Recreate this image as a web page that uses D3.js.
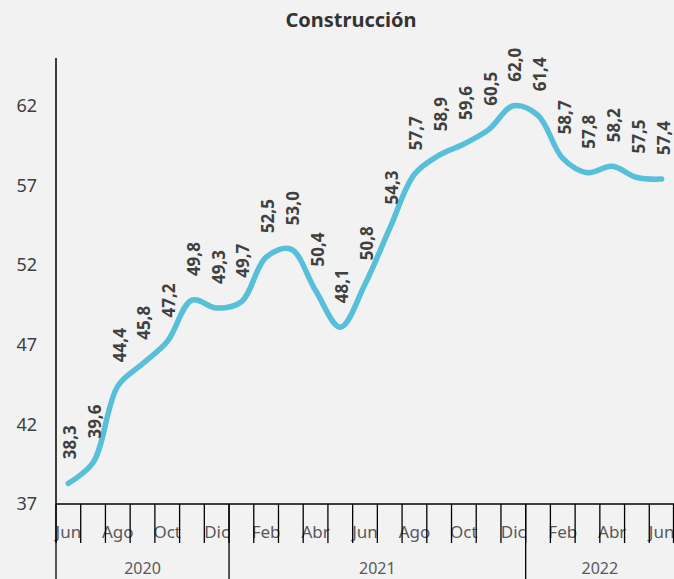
<!DOCTYPE html>
<html>
<head>
<meta charset="utf-8">
<script src="https://cdn.jsdelivr.net/npm/d3@7"></script>
<style>
    body { margin: 0; background: #f2f2f2; }
    svg { display: block; font-family: "Noto Sans", "Open Sans", sans-serif; }
</style>
</head>
<body>
<svg id="chart"></svg>
<script>
// Construcción, Jun 2020 - Jun 2022
const months = ['Jun', 'Jul', 'Ago', 'Sep', 'Oct', 'Nov', 'Dic',
    'Ene', 'Feb', 'Mar', 'Abr', 'May', 'Jun', 'Jul', 'Ago', 'Sep', 'Oct', 'Nov', 'Dic',
    'Ene', 'Feb', 'Mar', 'Abr', 'May', 'Jun'];
const values = [38.3, 39.6, 44.4, 45.8, 47.2, 49.8, 49.3,
    49.7, 52.5, 53.0, 50.4, 48.1, 50.8, 54.3, 57.7, 58.9, 59.6, 60.5, 62.0,
    61.4, 58.7, 57.8, 58.2, 57.5, 57.4];
const years = [
    { label: '2020', from: 0, to: 7 },
    { label: '2021', from: 7, to: 19 },
    { label: '2022', from: 19, to: 25 }
];
const yTicks = [37, 42, 47, 52, 57, 62];

const width = 674;
const height = 579;
const margin = { top: 58, left: 56, right: 0, bottom: 75 };

const svg = d3.select('#chart')
    .attr('width', width)
    .attr('height', height);

svg.append('rect')
    .attr('width', width)
    .attr('height', height)
    .attr('fill', '#f2f2f2');

const x = d3.scaleBand()
    .domain(d3.range(months.length))
    .range([margin.left, width - margin.right]);

const y = d3.scaleLinear()
    .domain([37, 65])
    .range([height - margin.bottom, margin.top]);

const y0 = y(37);

svg.append('text')
    .attr('x', 351)
    .attr('y', 27)
    .attr('text-anchor', 'middle')
    .attr('font-size', 20)
    .attr('font-weight', 'bold')
    .attr('fill', '#333')
    .text('Construcción');

// y axis
svg.append('line')
    .attr('x1', margin.left).attr('x2', margin.left)
    .attr('y1', margin.top).attr('y2', y0)
    .attr('stroke', '#000').attr('stroke-width', 1.5);

svg.selectAll('.ylab')
    .data(yTicks)
    .join('text')
    .attr('class', 'ylab')
    .attr('x', 37)
    .attr('y', d => y(d))
    .attr('dy', '0.35em')
    .attr('text-anchor', 'end')
    .attr('font-size', 18)
    .attr('fill', '#404040')
    .text(d => d);

// x axis, month labels every other month
svg.selectAll('.xlab')
    .data(months)
    .join('text')
    .attr('class', 'xlab')
    .attr('x', (d, i) => x(i) + x.bandwidth() / 2)
    .attr('y', y0 + 34)
    .attr('text-anchor', 'middle')
    .attr('font-size', 17)
    .attr('fill', '#595959')
    .text((d, i) => i % 2 === 0 ? d : '');

svg.append('line')
    .attr('x1', margin.left).attr('x2', width)
    .attr('y1', y0).attr('y2', y0)
    .attr('stroke', '#000').attr('stroke-width', 1.5);

svg.selectAll('.xtick')
    .data(d3.range(months.length + 1))
    .join('line')
    .attr('class', 'xtick')
    .attr('x1', i => i < months.length ? x(i) : width - 0.5)
    .attr('x2', i => i < months.length ? x(i) : width - 0.5)
    .attr('y1', y0)
    .attr('y2', y0 + 39)
    .attr('stroke', '#000')
    .attr('stroke-width', 1.3);

// year groups
svg.selectAll('.ydiv')
    .data(years)
    .join('line')
    .attr('class', 'ydiv')
    .attr('x1', d => x(d.from)).attr('x2', d => x(d.from))
    .attr('y1', y0).attr('y2', height)
    .attr('stroke', '#000').attr('stroke-width', 1.3);

svg.selectAll('.yearlab')
    .data(years)
    .join('text')
    .attr('class', 'yearlab')
    .attr('x', d => (x(d.from) + (d.to < months.length ? x(d.to) : width)) / 2)
    .attr('y', height - 5)
    .attr('text-anchor', 'middle')
    .attr('font-size', 16)
    .attr('fill', '#595959')
    .text(d => d.label);

// line
const line = d3.line()
    .x((d, i) => x(i) + x.bandwidth() / 2)
    .y(d => y(d))
    .curve(d3.curveCatmullRom.alpha(0.5));

svg.append('path')
    .datum(values)
    .attr('d', line)
    .attr('fill', 'none')
    .attr('stroke', '#57bfd8')
    .attr('stroke-width', 5.5)
    .attr('stroke-linecap', 'round');

// rotated value labels
svg.selectAll('.vlab')
    .data(values)
    .join('text')
    .attr('class', 'vlab')
    .attr('transform', (d, i) => `translate(${x(i) + x.bandwidth() / 2 + 2},${y(d) - 24}) rotate(-90)`)
    .attr('dy', '0.35em')
    .attr('font-size', 17)
    .attr('font-weight', 'bold')
    .attr('fill', '#404040')
    .text(d => d.toFixed(1).replace('.', ','));
</script>
</body>
</html>
